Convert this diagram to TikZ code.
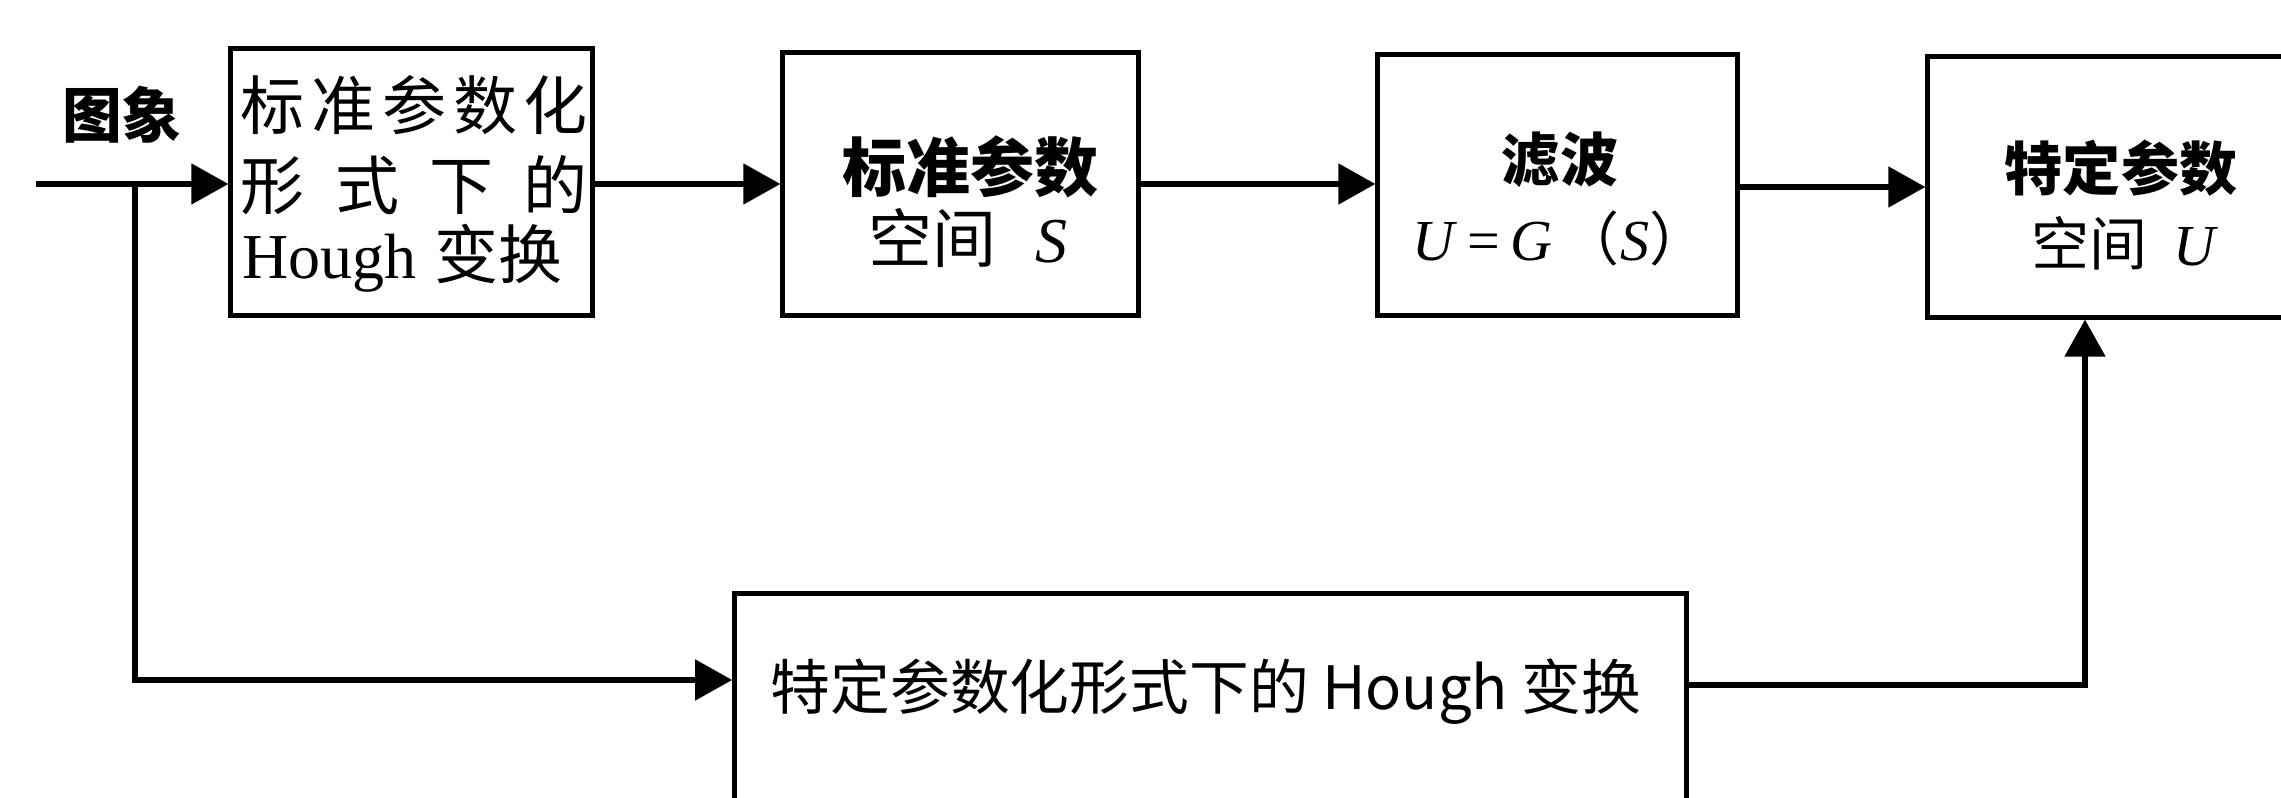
\documentclass[tikz,border=0pt]{standalone}
\usepackage{fontspec}
\setmainfont{Liberation Serif}
\newfontfamily\cjk{Noto Sans CJK SC}
\usetikzlibrary{arrows.meta}
\tikzset{
  box/.style={draw, line width=1.45pt, inner sep=0pt},
  line/.style={line width=1.45pt},
  arr/.style={line width=1.45pt, -{Triangle[length=0.37cm,width=0.40cm]}},
  txt/.style={inner sep=0pt},
}
\begin{document}
\begin{tikzpicture}[x=0.01cm,y=-0.01cm]
\useasboundingbox (0,0) rectangle (2281,798);
\clip (0,0) rectangle (2281,798);
\fill[white] (0,0) rectangle (2281,798);

% boxes
\node[box, minimum width=3.61cm, minimum height=2.66cm] (b1) at (411.5,182) {};
\node[box, minimum width=3.55cm, minimum height=2.62cm] (b2) at (960.5,184) {};
\node[box, minimum width=3.59cm, minimum height=2.60cm] (b3) at (1557.5,185) {};
\node[box, minimum width=3.86cm, minimum height=2.60cm] (b4) at (2121,187) {};
\node[box, minimum width=9.51cm, minimum height=2.36cm] (b5) at (1210.5,712) {};

% texts
\node[txt] (t0) at (122,115) {\fontsize{17pt}{20pt}\selectfont\cjk\bfseries 图象};
\node[txt, anchor=west] (t1a) at (240,105) {\fontsize{18.2pt}{22pt}\selectfont\cjk\makebox[3.47cm][s]{标\hfil 准\hfil 参\hfil 数\hfil 化}};
\node[txt, anchor=west] (t1b) at (240,185) {\fontsize{18.2pt}{22pt}\selectfont\cjk\makebox[3.47cm][s]{形\hfil 式\hfil 下\hfil 的}};
\node[txt, anchor=west] (t1c) at (242,258) {\fontsize{18.2pt}{22pt}\selectfont Hough\hspace{0.18cm}{\cjk 变换}};

\node[txt] (t2a) at (970,167) {\fontsize{18.2pt}{22pt}\selectfont\cjk\bfseries 标准参数};
\node[txt] (t2b) at (968,238) {\fontsize{18.2pt}{22pt}\selectfont{\cjk 空间}\hspace{0.38cm}\textit{S}};

\node[txt] (t3a) at (1560,160) {\fontsize{16.5pt}{20pt}\selectfont\cjk\bfseries 滤波};
\node[txt] (t3b) at (1560,238) {\fontsize{16.5pt}{20pt}\selectfont\textit{U}\,=\,\textit{G}\hspace{0.1cm}{\cjk （}\textit{S}{\cjk ）}};

\node[txt] (t4a) at (2121,168) {\fontsize{16.5pt}{20pt}\selectfont\cjk\bfseries 特定参数};
\node[txt] (t4b) at (2125,243) {\fontsize{16.5pt}{20pt}\selectfont{\cjk 空间}\hspace{0.25cm}\textit{U}};

\node[txt] (t5) at (1206,692) {\fontsize{17pt}{20pt}\selectfont\cjk 特定参数化形式下的 Hough 变换};

% connectors
\coordinate (in) at (36,184);
\coordinate (br) at (135,184);
\draw[arr] (in) -- (b1.west |- in);
\draw[arr] (b1.east |- b2.west) -- (b2.west);
\draw[arr] (b2.east) -- (b3.west |- b2.east);
\draw[arr] (b3.east |- b4.west) -- (b4.west);
\draw[arr] (br) |- ([yshift=0.32cm]b5.west);
\draw[arr] ([yshift=0.27cm]b5.east) -| ([xshift=-0.36cm]b4.south);
\end{tikzpicture}
\end{document}
